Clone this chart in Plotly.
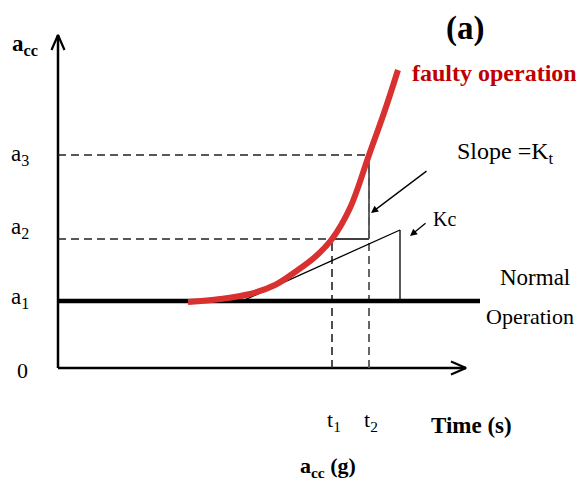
import plotly.graph_objects as go

# ---- diagram values (schematic units) ----
level_labels = ["0", "a<sub>1</sub>", "a<sub>2</sub>", "a<sub>3</sub>"]
level_values = [0.0, 0.67, 1.29, 2.13]
time_labels = ["t<sub>1</sub>", "t<sub>2</sub>"]
time_values = [2.74, 3.11]

faulty_x = [1.30, 1.62, 1.92, 2.17, 2.37, 2.57, 2.74, 2.92, 3.11, 3.27, 3.40]
faulty_y = [0.66, 0.69, 0.74, 0.83, 0.96, 1.11, 1.29, 1.60, 2.13, 2.58, 2.98]

normal_x = [0.0, 4.22]
kc_x = [1.82, 3.42]
kc_y = [0.66, 1.38]

x_axis_end = 4.08
y_axis_end = 3.33

slope_arrow_from = (3.70, 1.98)
slope_arrow_to = (3.13, 1.55)
kc_arrow_from = (3.69, 1.46)
kc_arrow_to = (3.52, 1.32)

# ---- styles ----
SERIF = "Liberation Serif, Times New Roman, serif"
RED = "#d93030"
DASH = "8px,5px"
HEAD_L = 0.15
HEAD_W = 0.065

a1, a2, a3 = level_values[1], level_values[2], level_values[3]
t1, t2 = time_values

fig = go.Figure()

def line(xs, ys, color="black", width=1.3, dash=None, shape="linear"):
    fig.add_trace(go.Scatter(x=xs, y=ys, mode="lines", hoverinfo="skip",
                             line=dict(color=color, width=width, dash=dash, shape=shape),
                             showlegend=False))

# axes with open arrowheads
line([0, 0], [0, y_axis_end], width=2.5)
line([0, x_axis_end], [0, 0], width=2.5)
line([-HEAD_W, 0, HEAD_W], [y_axis_end - HEAD_L, y_axis_end, y_axis_end - HEAD_L], width=2.2)
line([x_axis_end - HEAD_L, x_axis_end, x_axis_end - HEAD_L], [HEAD_W, 0, -HEAD_W], width=2.2)

# dashed guide lines
line([0, t2], [a3, a3], color="#222", width=1.6, dash=DASH)
line([0, t1], [a2, a2], color="#222", width=1.6, dash=DASH)
line([t1, t1], [0, a2], color="#222", width=1.6, dash=DASH)
line([t2, t2], [0, a3], color="#555", width=1.8, dash=DASH)

# normal operation thick line
line(normal_x, [a1, a1], width=4.5)

# slope triangle Kt
line([t1, t2], [a2, a2], width=1.3)
line([t2, t2], [a2, a3], color="#555", width=1.8)

# Kc line and vertical
line(kc_x, kc_y, width=1.3)
line([kc_x[1], kc_x[1]], [a1, kc_y[1]], width=1.3)

# faulty curve
line(faulty_x, faulty_y, color=RED, width=6, shape="spline")

ann = []
def text(x, y, s, size=21, bold=False, color="black", xanchor="center"):
    if bold:
        s = "<b>" + s + "</b>"
    ann.append(dict(x=x, y=y, xref="x", yref="y", text=s, showarrow=False,
                    xanchor=xanchor, yanchor="middle",
                    font=dict(family=SERIF, size=size, color=color)))

# y labels
text(-0.36, 0.0 - 0.02, level_labels[0], size=22)
text(-0.38, a1 + 0.03, level_labels[1], size=23)
text(-0.38, a2 + 0.11, level_labels[2], size=23)
text(-0.38, a3 + 0.0, level_labels[3], size=23)
text(-0.33, 3.23, "a<sub>cc</sub>", size=23, bold=True)

# x labels
text(t1 + 0.02, -0.53, time_labels[0], size=22)
text(t2 + 0.02, -0.53, time_labels[1], size=22)
text(4.13, -0.57, "Time (s)", size=23, bold=True)
text(2.70, -0.99, "a<sub>cc</sub> (g)", size=22, bold=True)

text(4.07, 3.40, "(a)", size=33, bold=True)
text(4.36, 2.95, "faulty operation", size=24, bold=True, color="#c00000")
text(4.47, 2.15, "Slope =K<sub>t</sub>", size=24)
text(3.86, 1.49, "Kc", size=20)
text(4.77, 0.91, "Normal", size=23)
text(4.72, 0.52, "Operation", size=22)

for (fx, fy), (tx, ty) in [(slope_arrow_from, slope_arrow_to), (kc_arrow_from, kc_arrow_to)]:
    ann.append(dict(x=tx, y=ty, ax=fx, ay=fy, xref="x", yref="y", axref="x", ayref="y",
                    text="", showarrow=True, arrowhead=2, arrowsize=1.1, arrowwidth=1.3,
                    arrowcolor="black"))

# page has an 8px body margin, so the figure is 576x484 and ranges are shifted
fig.update_layout(
    width=576, height=484,
    margin=dict(l=0, r=0, t=0, b=0),
    paper_bgcolor="white", plot_bgcolor="white",
    xaxis=dict(range=[-0.50, 5.26], visible=False, fixedrange=True),
    yaxis=dict(range=[-1.24, 3.60], visible=False, fixedrange=True),
    annotations=ann,
    showlegend=False,
)

fig.write_html("out.html")
